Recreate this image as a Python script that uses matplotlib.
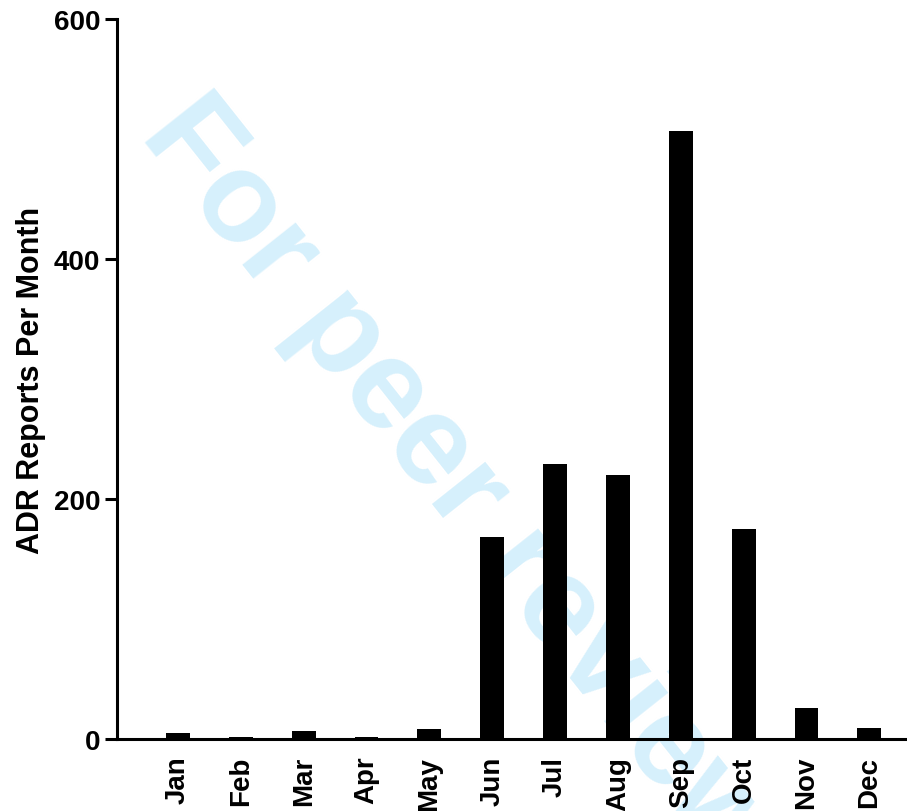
import matplotlib.pyplot as plt
import numpy as np

# ADR reports per month
months = ['Jan', 'Feb', 'Mar', 'Apr', 'May', 'Jun',
          'Jul', 'Aug', 'Sep', 'Oct', 'Nov', 'Dec']
reports = [5, 2, 7, 2, 8, 168, 229, 220, 507, 175, 26, 9]
y_ticks = [0, 200, 400, 600]

plt.rcParams['font.family'] = ['Liberation Sans', 'DejaVu Sans']
plt.rcParams['font.weight'] = 'bold'

fig = plt.figure(figsize=(9.07, 8.12), dpi=100)
ax = fig.add_axes([117 / 907, 72 / 812, 1 - 117 / 907, (740 - 20) / 812])
ax.patch.set_alpha(0)

x = np.arange(len(months))
ax.bar(x, reports, width=0.38, color='black', zorder=2)

ax.set_ylim(0, 600)
ax.set_xlim(-0.97, 11.6)
ax.set_yticks(y_ticks)
ax.set_yticklabels([str(v) for v in y_ticks], fontsize=20, fontweight='bold')
ax.set_xticks(x)
ax.set_xticklabels(months, rotation=90, fontsize=20, fontweight='bold')
ax.tick_params(axis='x', length=0, pad=12)
ax.tick_params(axis='y', length=9, width=2.2, pad=3)
ax.set_ylabel('ADR Reports Per Month', fontsize=22, fontweight='bold', labelpad=6)

for s in ['top', 'right']:
    ax.spines[s].set_visible(False)
for s in ['left', 'bottom']:
    ax.spines[s].set_linewidth(2.2)

# watermark, behind the bars
ax.text(139 / 907, 1 - 135 / 812, 'For peer review', color='#d6f0fc',
        fontsize=92, fontweight='bold', rotation=-51.6, rotation_mode='anchor',
        ha='left', va='baseline', transform=fig.transFigure,
        zorder=0.5, clip_on=False)

fig.savefig('out.png', dpi=100)
